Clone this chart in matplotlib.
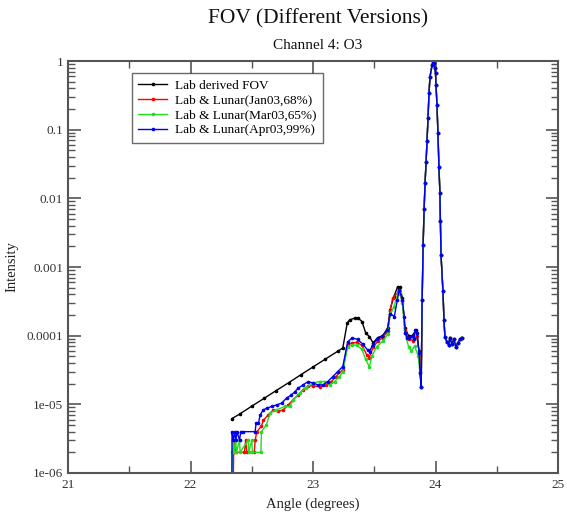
import matplotlib
matplotlib.use("Agg")
import matplotlib.pyplot as plt
from matplotlib.ticker import LogLocator, FixedLocator, FixedFormatter, NullFormatter

# ── Data (angle in degrees, intensity) ───────────────────────────────────────
# black: lab derived FOV, up to the dip before the main peak
lab_angle = [22.339, 22.40, 22.50, 22.60, 22.70, 22.80, 22.90, 23.00, 23.10, 23.20,
             23.243, 23.28, 23.30, 23.34, 23.37, 23.40, 23.43, 23.46, 23.49, 23.53,
             23.57, 23.61, 23.63, 23.66, 23.69, 23.71, 23.73, 23.75, 23.78, 23.81,
             23.84, 23.866, 23.874]
lab_int = [6.2e-6, 7.2e-6, 9.4e-6, 1.22e-5, 1.59e-5, 2.06e-5, 2.69e-5, 3.5e-5, 4.55e-5, 5.9e-5,
           6.6e-5, 1.55e-4, 1.7e-4, 1.8e-4, 1.8e-4, 1.6e-4, 1.1e-4, 9.7e-5, 7.9e-5, 9.4e-5,
           1.0e-4, 1.3e-4, 2.4e-4, 3.7e-4, 5.1e-4, 5.1e-4, 3.5e-4, 1.3e-4, 1.0e-4, 1.0e-4,
           1.2e-4, 6.0e-5, 3.0e-5]

# red: Lab & Lunar (Jan03, 68%)
jan_angle = [22.350, 22.352, 22.36, 22.37, 22.44, 22.45, 22.46, 22.52, 22.528, 22.541,
             22.579, 22.595, 22.636, 22.676, 22.717, 22.757, 22.798, 22.838, 22.879, 22.919,
             22.960, 23.00, 23.054, 23.105, 23.146, 23.186, 23.243, 23.283, 23.32, 23.36,
             23.40, 23.44, 23.46, 23.49, 23.53, 23.57, 23.61, 23.63, 23.65, 23.69,
             23.70, 23.73, 23.75, 23.78, 23.82, 23.85, 23.87]
jan_int = [9e-7, 2.0e-6, 3.0e-6, 2.0e-6, 2.0e-6, 3.0e-6, 2.0e-6, 2.0e-6, 3.0e-6, 4.0e-6,
           4.8e-6, 5.9e-6, 7.0e-6, 8.3e-6, 7.9e-6, 8.3e-6, 9.8e-6, 1.17e-5, 1.37e-5, 1.63e-5,
           1.86e-5, 1.86e-5, 1.8e-5, 1.92e-5, 2.1e-5, 2.54e-5, 3.2e-5, 7.4e-5, 7.8e-5, 8.0e-5,
           7.2e-5, 5.2e-5, 4.8e-5, 6.8e-5, 8.3e-5, 9.4e-5, 1.15e-4, 2.3e-4, 3.5e-4, 4.2e-4,
           4.6e-4, 3.2e-4, 1.2e-4, 9.0e-5, 8.5e-5, 1.0e-4, 5.0e-5]

# green: Lab & Lunar (Mar03, 65%)
mar_angle = [22.340, 22.342, 22.35, 22.355, 22.37, 22.375, 22.40, 22.405, 22.47, 22.475,
             22.50, 22.505, 22.575, 22.579, 22.619, 22.649, 22.70, 22.771, 22.811, 22.838,
             22.892, 22.943, 23.00, 23.054, 23.095, 23.135, 23.176, 23.216, 23.243, 23.283,
             23.32, 23.36, 23.40, 23.43, 23.46, 23.48, 23.52, 23.57, 23.61, 23.63,
             23.66, 23.69, 23.71, 23.73, 23.75, 23.78, 23.80, 23.83, 23.86]
mar_int = [9e-7, 2.0e-6, 3.0e-6, 2.0e-6, 3.0e-6, 2.0e-6, 3.0e-6, 2.0e-6, 3.0e-6, 2.0e-6,
           3.0e-6, 2.0e-6, 2.0e-6, 4.0e-6, 5.0e-6, 7.5e-6, 8.3e-6, 9.3e-6, 9.3e-6, 1.17e-5,
           1.45e-5, 1.75e-5, 2.04e-5, 2.15e-5, 2.15e-5, 1.92e-5, 2.15e-5, 2.54e-5, 3.0e-5, 6.9e-5,
           7.4e-5, 7.2e-5, 6.3e-5, 4.5e-5, 3.5e-5, 5.0e-5, 6.9e-5, 8.3e-5, 1.05e-4, 2.1e-4,
           2.6e-4, 4.0e-4, 4.3e-4, 3.0e-4, 1.1e-4, 6.9e-5, 6.0e-5, 7.0e-5, 5.0e-5]

# blue: Lab & Lunar (Apr03, 99%)
apr_angle = [22.338, 22.339, 22.35, 22.36, 22.37, 22.38, 22.40, 22.41, 22.43, 22.528,
             22.535, 22.555, 22.568, 22.595, 22.622, 22.662, 22.703, 22.743, 22.784, 22.824,
             22.852, 22.879, 22.919, 22.960, 23.00, 23.04, 23.081, 23.121, 23.162, 23.202,
             23.243, 23.283, 23.32, 23.364, 23.405, 23.445, 23.462, 23.486, 23.526, 23.567,
             23.607, 23.63, 23.664, 23.688, 23.704, 23.729, 23.745, 23.753, 23.769, 23.785,
             23.81, 23.826, 23.834, 23.85, 23.866, 23.874]
apr_int = [9e-7, 4.0e-6, 3.0e-6, 4.0e-6, 3.0e-6, 4.0e-6, 3.0e-6, 4.0e-6, 4.0e-6, 4.0e-6,
           5.3e-6, 5.3e-6, 7.0e-6, 8.3e-6, 8.8e-6, 9.3e-6, 9.8e-6, 1.04e-5, 1.23e-5, 1.37e-5,
           1.53e-5, 1.72e-5, 1.92e-5, 2.15e-5, 2.04e-5, 1.92e-5, 1.92e-5, 2.15e-5, 2.54e-5, 3.0e-5,
           3.55e-5, 8.1e-5, 9.3e-5, 8.8e-5, 7.6e-5, 6.2e-5, 5.8e-5, 7.4e-5, 8.8e-5, 1.0e-4,
           1.2e-4, 2.1e-4, 1.9e-4, 3.3e-4, 4.7e-4, 3.3e-4, 1.9e-4, 1.1e-4, 9.4e-5, 9.4e-5,
           1.0e-4, 8.8e-5, 1.2e-4, 1.1e-4, 5.6e-5, 2.9e-5]

# main peak, common to all four versions
peak_angle = [23.883, 23.891, 23.899, 23.907, 23.915, 23.923, 23.931, 23.939, 23.947, 23.955,
              23.972, 23.980, 23.988, 23.996, 24.000, 24.004, 24.012, 24.020, 24.028, 24.036,
              24.040, 24.045, 24.061, 24.069, 24.077, 24.093, 24.109, 24.117, 24.134, 24.150,
              24.166, 24.182, 24.198, 24.215]
peak_int = [1.8e-5, 3.3e-4, 2.1e-3, 7.0e-3, 1.7e-2, 3.4e-2, 6.9e-2, 0.15, 0.34, 0.59,
            0.87, 1.0, 0.94, 0.79, 0.67, 0.45, 0.23, 0.089, 0.029, 0.012,
            4.6e-3, 1.5e-3, 4.4e-4, 1.7e-4, 9.6e-5, 8.1e-5, 7.4e-5, 9.4e-5, 7.6e-5, 8.8e-5,
            6.9e-5, 7.8e-5, 8.8e-5, 9.4e-5]

series = [
    ("Lab derived FOV",          lab_angle, lab_int, "black"),
    ("Lab & Lunar(Jan03,68%)",   jan_angle, jan_int, "#ff0000"),
    ("Lab & Lunar(Mar03,65%)",   mar_angle, mar_int, "#22dd22"),
    ("Lab & Lunar(Apr03,99%)",   apr_angle, apr_int, "#0000ee"),
]

x_ticks = [21, 22, 23, 24, 25]
y_ticks = [1e-6, 1e-5, 1e-4, 1e-3, 1e-2, 1e-1, 1]
y_labels = ["1e-06", "1e-05", "0.0001", "0.001", "0.01", "0.1", "1"]

# ── Figure ───────────────────────────────────────────────────────────────────
plt.rcParams["font.family"] = ["Liberation Serif", "DejaVu Serif"]

fig = plt.figure(figsize=(5.67, 5.12), dpi=100)
ax = fig.add_axes([68 / 567, 1 - 473 / 512, 490 / 567, 412 / 512])

for label, xs, ys, color in series:
    ax.plot(xs + peak_angle, ys + peak_int, color=color, lw=1.0,
            marker="o", markersize=1.6, label=label)

ax.set_yscale("log")
ax.set_xlim(21, 25)
ax.set_ylim(1e-6, 1)

ax.xaxis.set_major_locator(FixedLocator(x_ticks))
ax.xaxis.set_minor_locator(FixedLocator([21.5, 22.5, 23.5, 24.5]))
ax.yaxis.set_major_locator(FixedLocator(y_ticks))
ax.yaxis.set_major_formatter(FixedFormatter(y_labels))
ax.yaxis.set_minor_locator(LogLocator(base=10, subs=range(2, 10)))
ax.yaxis.set_minor_formatter(NullFormatter())

frame = "#555555"
ax.tick_params(which="both", direction="in", top=True, right=True,
               color=frame, labelcolor="#333333", labelsize=9.5)
ax.tick_params(which="major", length=9, width=1.2)
ax.tick_params(which="minor", length=5, width=1.0)
ax.tick_params(axis="x", pad=4)
for spine in ax.spines.values():
    spine.set_color(frame)
    spine.set_linewidth(1.5)

ax.set_xlabel("Angle (degrees)", fontsize=10.5, color="#222222", labelpad=5)
ax.set_ylabel("Intensity", fontsize=10.5, color="#222222", labelpad=6)

fig.text(0.561, 0.963, "FOV (Different Versions)", ha="center", va="center",
         fontsize=15.5, color="#111111")
fig.text(0.561, 0.911, "Channel 4: O3", ha="center", va="center",
         fontsize=11, color="#111111")

leg = ax.legend(loc="upper left", bbox_to_anchor=(0.13, 0.971), fontsize=9.5,
                frameon=True, fancybox=False, handlelength=2.2, handletextpad=0.6,
                labelspacing=0.2, borderpad=0.5, borderaxespad=0)
leg.get_frame().set_edgecolor("#444444")
leg.get_frame().set_linewidth(1.0)

fig.savefig("out.png", dpi=100)
